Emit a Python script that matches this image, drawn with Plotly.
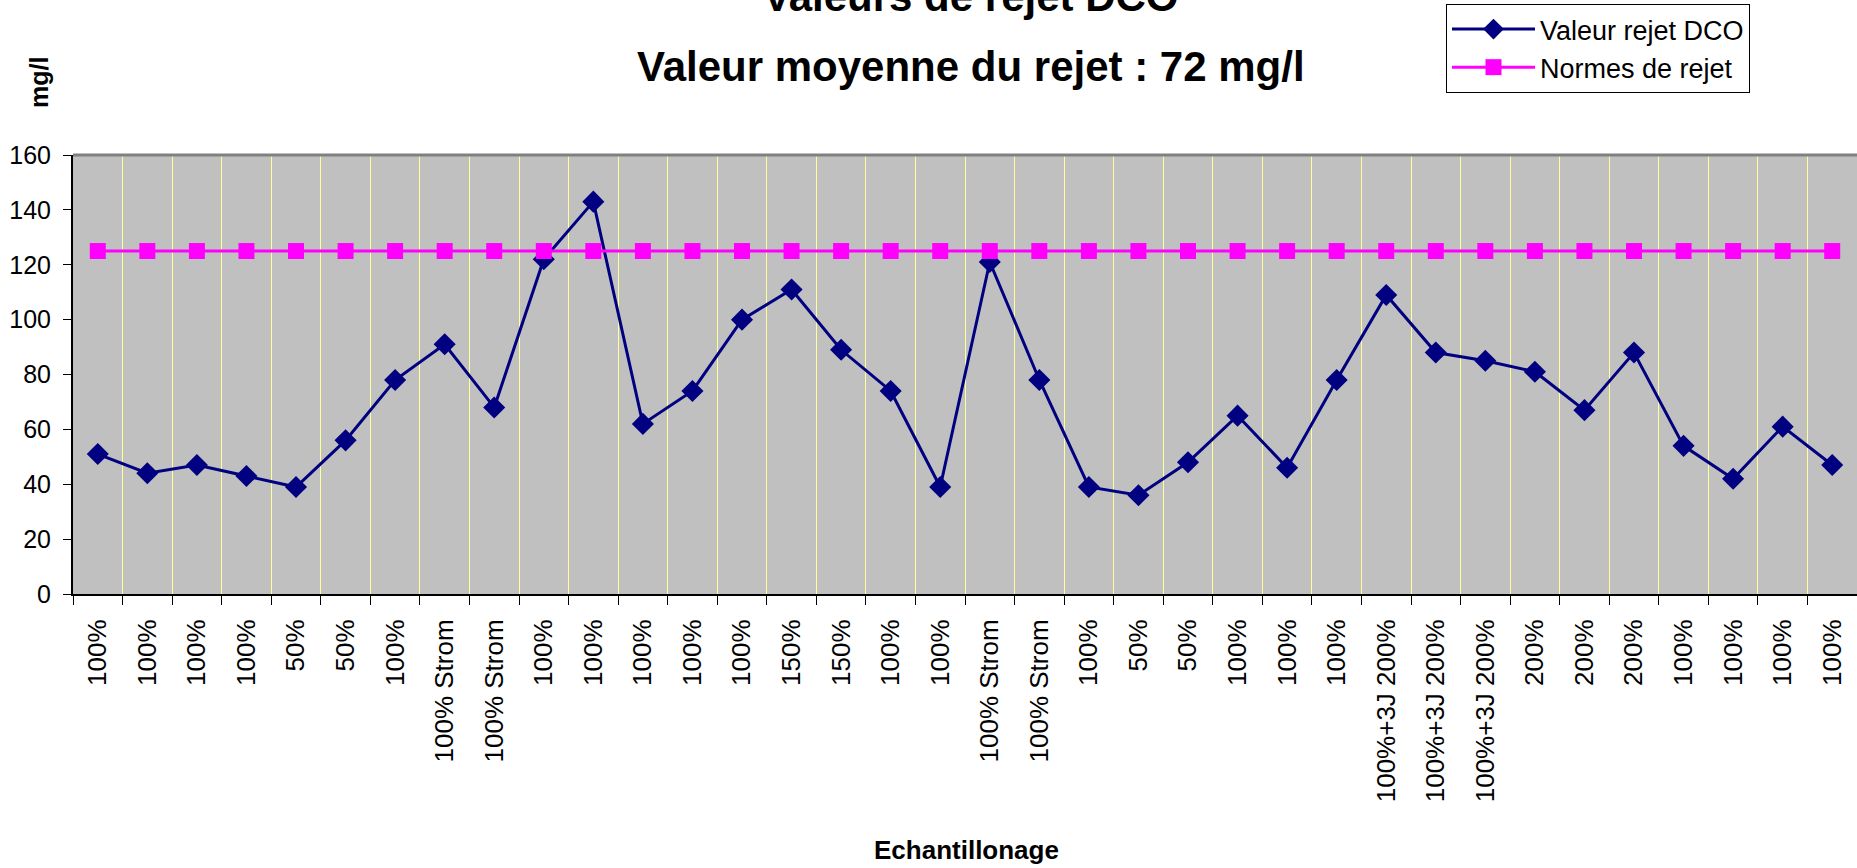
import plotly.graph_objects as go

categories = ["100%", "100%", "100%", "100%", "50%", "50%", "100%", "100% Strom", "100% Strom",
              "100%", "100%", "100%", "100%", "100%", "150%", "150%", "100%", "100%",
              "100% Strom", "100% Strom", "100%", "50%", "50%", "100%", "100%", "100%",
              "100%+3J 200%", "100%+3J 200%", "100%+3J 200%", "200%", "200%", "200%",
              "100%", "100%", "100%", "100%"]
valeur_rejet_dco = [51, 44, 47, 43, 39, 56, 78, 91, 68, 122, 143, 62, 74, 100, 111, 89, 74, 39,
                    121, 78, 39, 36, 48, 65, 46, 78, 109, 88, 85, 81, 67, 88, 54, 42, 61, 47]
normes_de_rejet = [125] * len(categories)
y_ticks = [0, 20, 40, 60, 80, 100, 120, 140, 160]

idx = list(range(len(categories)))

W, H = 1857, 868
L, R, T, B = 73, 0, 155, 274
pw, ph = W - L - R, H - T - B

def px_x(x):
    return (x - L) / pw

def px_y(y):
    return (H - B - y) / ph

fig = go.Figure()
fig.add_trace(go.Scatter(
    x=idx, y=valeur_rejet_dco, name="Valeur rejet DCO", mode="lines+markers",
    line=dict(color="#000080", width=3),
    marker=dict(symbol="diamond", size=17, color="#000080"),
    legendgroup="a",
))
fig.add_trace(go.Scatter(
    x=idx, y=normes_de_rejet, name="Normes de rejet", mode="lines+markers",
    line=dict(color="#FF00FF", width=3),
    marker=dict(symbol="square", size=16, color="#FF00FF"),
    legendgroup="b",
))

font_family = "Liberation Sans, Arial, sans-serif"

fig.update_layout(
    width=W, height=H,
    margin=dict(l=L, r=R, t=T, b=B, pad=0),
    paper_bgcolor="white",
    plot_bgcolor="#C0C0C0",
    font=dict(family=font_family, color="black"),
    showlegend=True,
    legend=dict(
        x=px_x(1446), y=px_y(4), xanchor="left", yanchor="top",
        bgcolor="white", bordercolor="black", borderwidth=1,
        font=dict(size=27, family=font_family, color="black"),
        tracegroupgap=0, itemwidth=83,
    ),
    xaxis=dict(
        range=[-0.5, len(categories) - 0.5],
        tickmode="array", tickvals=idx, ticktext=categories,
        tickangle=-90, tickfont=dict(size=26, family=font_family, color="black"),
        ticks="outside", ticklen=9, tickcolor="rgba(0,0,0,0)",
        ticklabelstandoff=4,
        showgrid=False, zeroline=False,
        showline=True, linecolor="black", linewidth=2,
        minor=dict(tick0=-0.5, dtick=1, showgrid=True, gridcolor="#FFFF99", gridwidth=1,
                   ticks="outside", ticklen=9, tickcolor="black", tickwidth=1),
    ),
    yaxis=dict(
        range=[0, 160], tickmode="array", tickvals=y_ticks,
        tickfont=dict(size=25, family=font_family, color="black"),
        ticks="outside", ticklen=8, tickcolor="black", tickwidth=1,
        ticklabelstandoff=7,
        showgrid=False, zeroline=False,
        showline=True, linecolor="black", linewidth=2,
    ),
    shapes=[dict(type="line", xref="paper", yref="paper", x0=0, x1=1, y0=1, y1=1,
                 line=dict(color="#808080", width=3))],
    annotations=[
        dict(text="<b>Valeurs de rejet DCO</b>", xref="paper", yref="paper",
             x=px_x(971), y=px_y(-3), xanchor="center", yanchor="middle",
             showarrow=False, font=dict(size=42, family=font_family, color="black")),
        dict(text="<b>Valeur moyenne du rejet : 72 mg/l</b>", xref="paper", yref="paper",
             x=px_x(971), y=px_y(66), xanchor="center", yanchor="middle",
             showarrow=False, font=dict(size=42, family=font_family, color="black")),
        dict(text="<b>mg/l</b>", xref="paper", yref="paper", textangle=-90,
             x=px_x(39), y=px_y(83), xanchor="center", yanchor="middle",
             showarrow=False, font=dict(size=25, family=font_family, color="black")),
        dict(text="<b>Echantillonage</b>", xref="paper", yref="paper",
             x=px_x(967), y=px_y(850), xanchor="center", yanchor="middle",
             showarrow=False, font=dict(size=26, family=font_family, color="black")),
    ],
)

fig.write_html("out.html", config={"displayModeBar": False},
               post_script="document.body.style.margin='0px';document.body.style.overflow='hidden';")
